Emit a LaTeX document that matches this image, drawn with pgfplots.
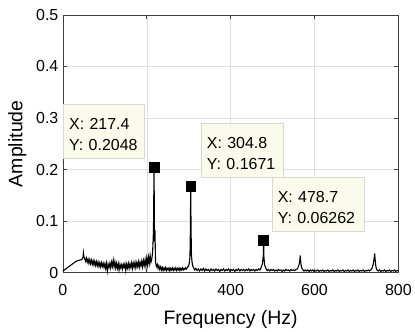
\documentclass[border=0pt]{standalone}
\usepackage{fontspec}
\setmainfont{Liberation Sans}
\usepackage{pgfplots}
\pgfplotsset{compat=1.18}
\usepackage{pgfplotstable}
\definecolor{tipfill}{HTML}{FBFBEC}
\definecolor{tipedge}{HTML}{D8D8D0}
\pgfplotstableread{
x y
0 0.003
5 0.006
10 0.009
15 0.012
20 0.015
25 0.018
30 0.021
35 0.023
40 0.024
44 0.025
46 0.026
48 0.030
49 0.038
50 0.031
52 0.027
54 0.022
56 0.028
58 0.020
60 0.026
62 0.018
64 0.025
66 0.017
68 0.024
70 0.016
72 0.023
74 0.015
76 0.022
78 0.014
80 0.021
82 0.013
84 0.020
86 0.012
88 0.019
90 0.011
92 0.019
94 0.012
96 0.018
98 0.010
100 0.017
102 0.008
104 0.018
106 0.003
108 0.016
110 0.010
112 0.018
114 0.009
116 0.020
118 0.012
120 0.024
122 0.011
124 0.021
126 0.009
128 0.018
130 0.008
132 0.017
134 0.005
136 0.016
138 0.009
140 0.015
142 0.007
144 0.016
146 0.010
148 0.017
150 0.004
152 0.016
154 0.009
156 0.018
158 0.008
160 0.017
162 0.010
164 0.019
166 0.008
168 0.018
170 0.011
172 0.020
174 0.009
176 0.019
178 0.012
180 0.021
182 0.010
184 0.020
186 0.013
188 0.022
190 0.011
192 0.023
194 0.014
196 0.025
198 0.012
200 0.028
202 0.015
204 0.030
206 0.018
208 0.033
210 0.020
212 0.026
214 0.040
216 0.080
217.4 0.2048
218.5 0.060
219.5 0.083
221 0.020
223 0.012
225 0.016
227 0.008
229 0.013
231 0.006
233 0.011
235 0.005
237 0.010
239 0.004
241 0.009
243 0.005
245 0.010
247 0.004
249 0.008
251 0.005
253 0.009
255 0.003
257 0.008
259 0.005
261 0.009
263 0.004
265 0.008
267 0.005
269 0.009
271 0.004
273 0.008
275 0.005
277 0.009
279 0.004
281 0.008
283 0.005
285 0.009
287 0.005
289 0.008
291 0.006
293 0.009
295 0.007
297 0.010
299 0.012
301 0.016
303 0.030
304 0.080
304.8 0.1671
305.6 0.090
306.5 0.035
308 0.020
310 0.012
312 0.009
314 0.005
317 0.008
320 0.004
323 0.007
326 0.003
329 0.007
332 0.004
335 0.008
338 0.003
341 0.007
344 0.004
347 0.006
350 0.002
353 0.007
356 0.004
359 0.006
362 0.003
365 0.007
368 0.004
371 0.006
374 0.002
377 0.006
380 0.004
383 0.007
386 0.003
389 0.006
392 0.004
395 0.007
398 0.003
401 0.006
404 0.004
407 0.006
410 0.002
413 0.006
416 0.004
419 0.007
422 0.003
425 0.006
428 0.004
431 0.006
434 0.003
437 0.006
440 0.004
443 0.007
446 0.003
449 0.006
452 0.004
455 0.006
458 0.003
461 0.006
464 0.004
467 0.007
470 0.005
473 0.010
476 0.018
478 0.035
478.7 0.06262
479.5 0.030
481 0.015
484 0.008
487 0.004
490 0.006
493 0.003
496 0.006
499 0.004
502 0.006
505 0.003
508 0.005
511 0.003
514 0.006
517 0.004
520 0.005
523 0.002
526 0.005
529 0.003
532 0.006
535 0.004
538 0.005
541 0.003
544 0.006
547 0.004
550 0.005
553 0.004
556 0.006
559 0.007
562 0.012
564.5 0.020
566 0.033
567.5 0.018
569 0.010
572 0.006
575 0.003
578 0.005
581 0.003
584 0.005
587 0.002
590 0.005
593 0.003
596 0.005
599 0.002
602 0.004
605 0.003
608 0.005
611 0.002
614 0.004
617 0.003
620 0.005
623 0.002
626 0.004
629 0.003
632 0.005
635 0.002
638 0.004
641 0.003
644 0.005
647 0.002
650 0.004
653 0.003
656 0.005
659 0.002
662 0.004
665 0.003
668 0.005
671 0.002
674 0.004
677 0.003
680 0.005
683 0.002
686 0.004
689 0.003
692 0.005
695 0.002
698 0.004
701 0.003
704 0.005
707 0.002
710 0.004
713 0.003
716 0.005
719 0.002
722 0.004
725 0.003
728 0.005
731 0.003
734 0.005
737 0.008
740 0.016
742 0.026
743.5 0.037
745 0.022
746.5 0.011
749 0.005
752 0.003
755 0.005
758 0.002
761 0.004
764 0.003
767 0.005
770 0.002
773 0.004
776 0.003
779 0.005
782 0.002
785 0.004
788 0.003
791 0.005
794 0.002
797 0.004
800 0.003
}\spectrum
\pgfplotstableread{
x y
217.4 0.2048
304.8 0.1671
478.7 0.06262
}\tips
\begin{document}
\begin{tikzpicture}
\begin{axis}[
  scale only axis,
  width=336pt, height=258pt,
  xmin=0, xmax=800, ymin=0, ymax=0.5,
  xtick={0,200,400,600,800},
  ytick={0,0.1,0.2,0.3,0.4,0.5},
  yticklabels={0,0.1,0.2,0.3,0.4,0.5},
  /pgf/number format/assume math mode=true,
  tick label style={font=\fontsize{16}{19}\selectfont},
  xticklabel style={yshift=-8pt},
  yticklabel style={xshift=-1pt},
  label style={font=\fontsize{19.5}{23}\selectfont},
  xlabel={Frequency (Hz)},
  ylabel={Amplitude},
  xlabel style={yshift=-8pt},
  ylabel style={yshift=3pt},
  grid=major,
  major grid style={gray!25, line width=0.5pt},
  axis line style={black!75, line width=0.6pt},
  tick align=inside,
  major tick length=4pt,
  tick style={black!75, line width=0.6pt},
  clip=false,
]
\addplot[black, line width=1.1pt, no markers] table {\spectrum};
\addplot[only marks, mark=square*, mark size=5pt, black] table {\tips};
\path (rel axis cs:0,0) ++(-63pt,-57pt) coordinate (bbsw);
\path (rel axis cs:1,1) ++(16pt,15pt) coordinate (bbne);
\path (bbsw) rectangle (bbne);
\tikzset{tip/.style={draw=tipedge, fill=tipfill, line width=0.6pt, anchor=north west, inner xsep=6pt, inner ysep=8pt, align=left, font=\fontsize{16}{21}\selectfont}}
\node[tip, text width=69pt] at (axis cs:0,0.3275) {\rule{0pt}{17.5pt}\mbox{X: 217.4}\\\mbox{Y: 0.2048}};
\node[tip, text width=70pt] at (axis cs:328.5,0.2907) {\rule{0pt}{17.5pt}\mbox{X: 304.8}\\\mbox{Y: 0.1671}};
\node[tip, text width=81pt] at (axis cs:497.5,0.186) {\rule{0pt}{17.5pt}\mbox{X: 478.7}\\\mbox{Y: 0.06262}};
\end{axis}
\end{tikzpicture}
\end{document}
